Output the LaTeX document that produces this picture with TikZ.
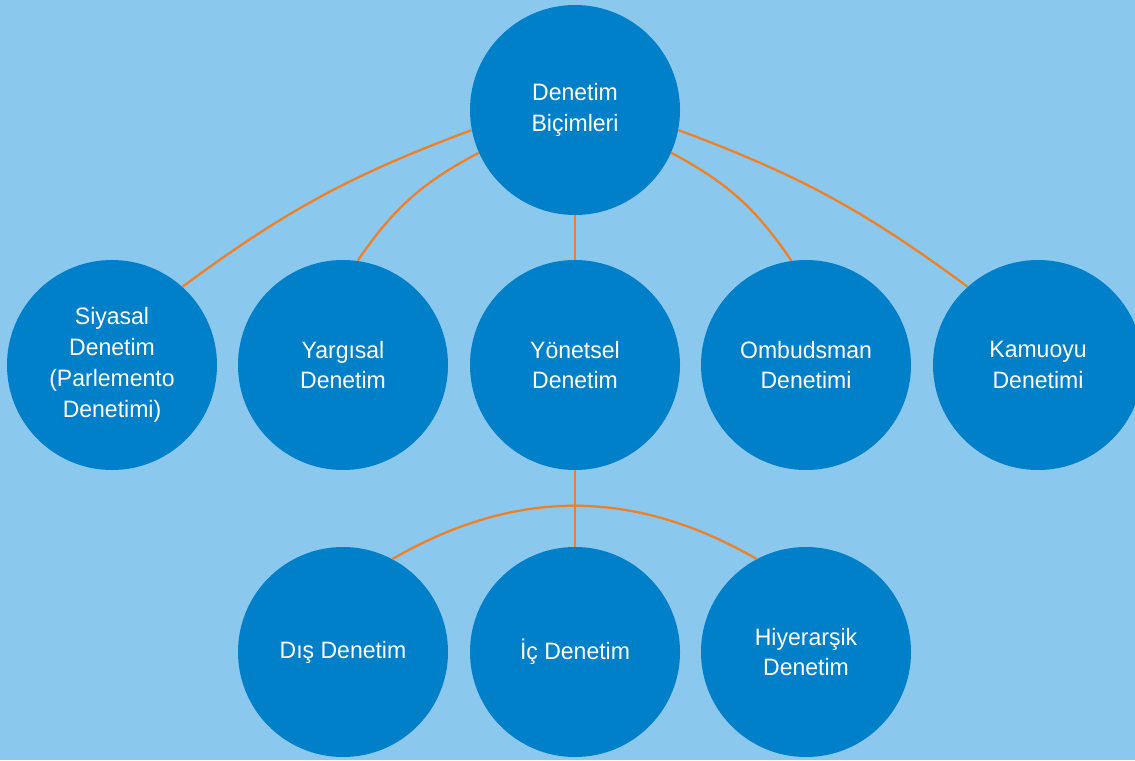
\documentclass[tikz,border=0pt]{standalone}
\usepackage{fontspec}
\setmainfont[FakeStretch=0.97]{Liberation Sans}
\usepackage{tikz}
\definecolor{bgblue}{RGB}{139,200,238}
\definecolor{dotblue}{RGB}{0,128,200}
\definecolor{linkorange}{RGB}{240,128,40}
\tikzset{
  kind/.style={shape=circle,draw=none,fill=dotblue,text=white,minimum size=4.2cm,inner sep=0pt,
    align=center,font=\fontsize{13.5}{17.6}\selectfont},
  link/.style={draw=linkorange,line width=1.3pt}
}
\begin{document}
\begin{tikzpicture}
    \useasboundingbox (0,0) rectangle (22.7,15.2);
    \fill[bgblue] (0,0) rectangle (22.7,15.2);
    \clip (0,0) rectangle (22.7,15.2);

    % top
    \node[kind] (bicim) at (11.5,13.0) {Denetim\\Biçimleri};

    % row 2
    \node[kind] (siyasal) at (2.24,7.9) {Siyasal\\Denetim\\(Parlemento\\Denetimi)};
    \node[kind] (yargi) at (6.86,7.9) {Yargısal\\Denetim};
    \node[kind] (yonet) at (11.5,7.9) {Yönetsel\\Denetim};
    \node[kind] (ombud) at (16.12,7.9) {Ombudsman\\Denetimi};
    \node[kind] (kamu) at (20.76,7.9) {Kamuoyu\\Denetimi};

    % row 3
    \node[kind] (dis) at (6.86,2.16) {Dış Denetim};
    \node[kind] (ic) at (11.5,2.16) {İç Denetim};
    \node[kind] (hiyer) at (16.12,2.16) {Hiyerarşik\\Denetim};

    % links
    \draw[link] (bicim.191) to[bend right=8] (siyasal.48);
    \draw[link] (bicim.204) to[bend right=14] (yargi.82);
    \draw[link] (bicim) -- (yonet);
    \draw[link] (bicim.336) to[bend left=14] (ombud.98);
    \draw[link] (bicim.349) to[bend left=8] (kamu.132);

    \draw[link] (yonet) -- (ic);
    \draw[link] (dis.62) to[bend left=30] (hiyer.118);
\end{tikzpicture}
\end{document}
